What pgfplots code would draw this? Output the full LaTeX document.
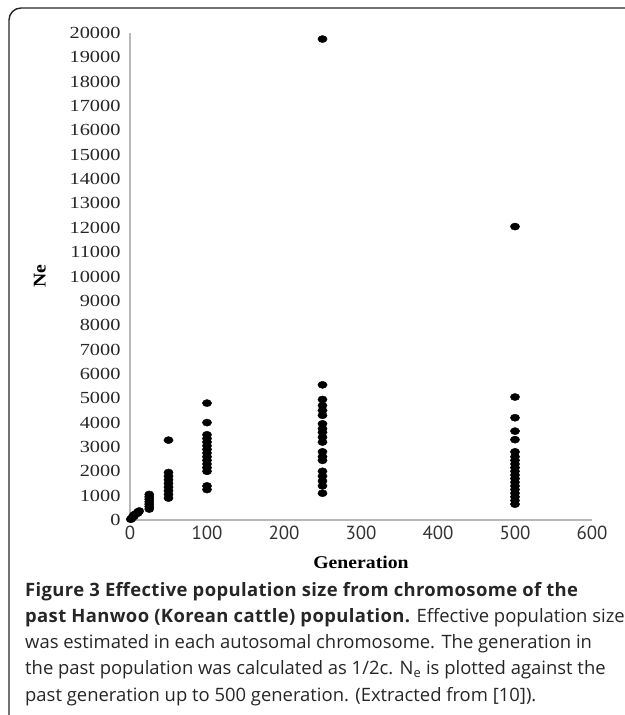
\documentclass[border=0pt]{standalone}
\usepackage{fontspec}
\setmainfont{Liberation Serif}
\newfontfamily\tickfont{Liberation Serif}[FakeStretch=1.2]
\newfontfamily\labfont{Liberation Serif}[FakeStretch=1.1]
\newfontfamily\capfont{Open Sans}
\newfontfamily\capbold{Open Sans Bold}[LetterSpace=2]
\newfontfamily\xtfont{PT Sans}
\usepackage{pgfplots}
\pgfplotsset{compat=1.18}
\begin{document}
\begin{tikzpicture}[x=1bp,y=1bp]
\useasboundingbox (-130,-195) rectangle (495,520);
\draw[line width=1.4bp, black!85, rounded corners=12bp] (-121,-210) -- (-121,512) -- (510,512);
\begin{axis}[at={(0,0)}, anchor=south west, scale only axis,
  width=462bp, height=487bp,
  xmin=0, xmax=600, ymin=0, ymax=20000,
  axis lines=left,
  axis line style={black!28, line width=1.1bp, -},
  xtick={0,100,...,600}, ytick={0,1000,...,20000},
  major tick length=0pt,
  scaled y ticks=false, scaled x ticks=false,
  /pgf/number format/.cd, 1000 sep={}, assume math mode=true, /pgfplots/.cd,
  yticklabel style={font=\tickfont\fontsize{17}{17}\selectfont, text=black!85, xshift=-6bp},
  xticklabel style={font=\xtfont\fontsize{19}{19}\selectfont, text=black!80, yshift=-3bp},
  every axis y label/.style={at={(axis description cs:-0.195,0.5)}, rotate=90, anchor=center},
  every axis x label/.style={at={(axis description cs:0.5,0)}, anchor=center, yshift=-42bp},
  ylabel={\labfont\fontsize{18}{18}\selectfont\bfseries Ne},
  xlabel={\labfont\fontsize{18}{18}\selectfont\bfseries Generation},
  clip=false]
\addplot[only marks, mark=*, mark size=4.2bp, black, mark options={xscale=1.1, yscale=0.85}] table {
x y
1 30
2 60
3 100
5 150
5 200
7 240
10 280
10 320
12 370
25 450
25 550
25 650
25 750
25 850
25 950
25 1050
50 900
50 1050
50 1200
50 1350
50 1500
50 1650
50 1800
50 1950
50 3280
100 1250
100 1400
100 2000
100 2150
100 2300
100 2450
100 2600
100 2750
100 2900
100 3050
100 3200
100 3350
100 3500
100 4000
100 4800
250 1100
250 1400
250 1600
250 1800
250 2000
250 2450
250 2600
250 2800
250 3200
250 3400
250 3600
250 3750
250 3950
250 4300
250 4500
250 4700
250 4950
250 5550
250 19750
500 650
500 800
500 950
500 1100
500 1250
500 1400
500 1550
500 1700
500 1850
500 2000
500 2150
500 2300
500 2450
500 2600
500 2800
500 3300
500 3650
500 4200
500 5050
500 12050
};
\end{axis}
\begin{scope}[every node/.style={anchor=base west, inner sep=0pt, text=black!85, font=\capfont\fontsize{18.5}{18.5}\selectfont}]
\node at (-105,-76) {\capbold Figure 3 Effective population size from chromosome of the};
\node at (-105,-102.25) {{\capbold past Hanwoo (Korean cattle) population.} Effective population size};
\node at (-105,-128.5) {was estimated in each autosomal chromosome. The generation in};
\node at (-105,-154.75) {the past population was calculated as 1/2c. N\textsubscript{e} is plotted against the};
\node at (-105,-181) {past generation up to 500 generation. (Extracted from [10]).};
\end{scope}
\end{tikzpicture}
\end{document}
